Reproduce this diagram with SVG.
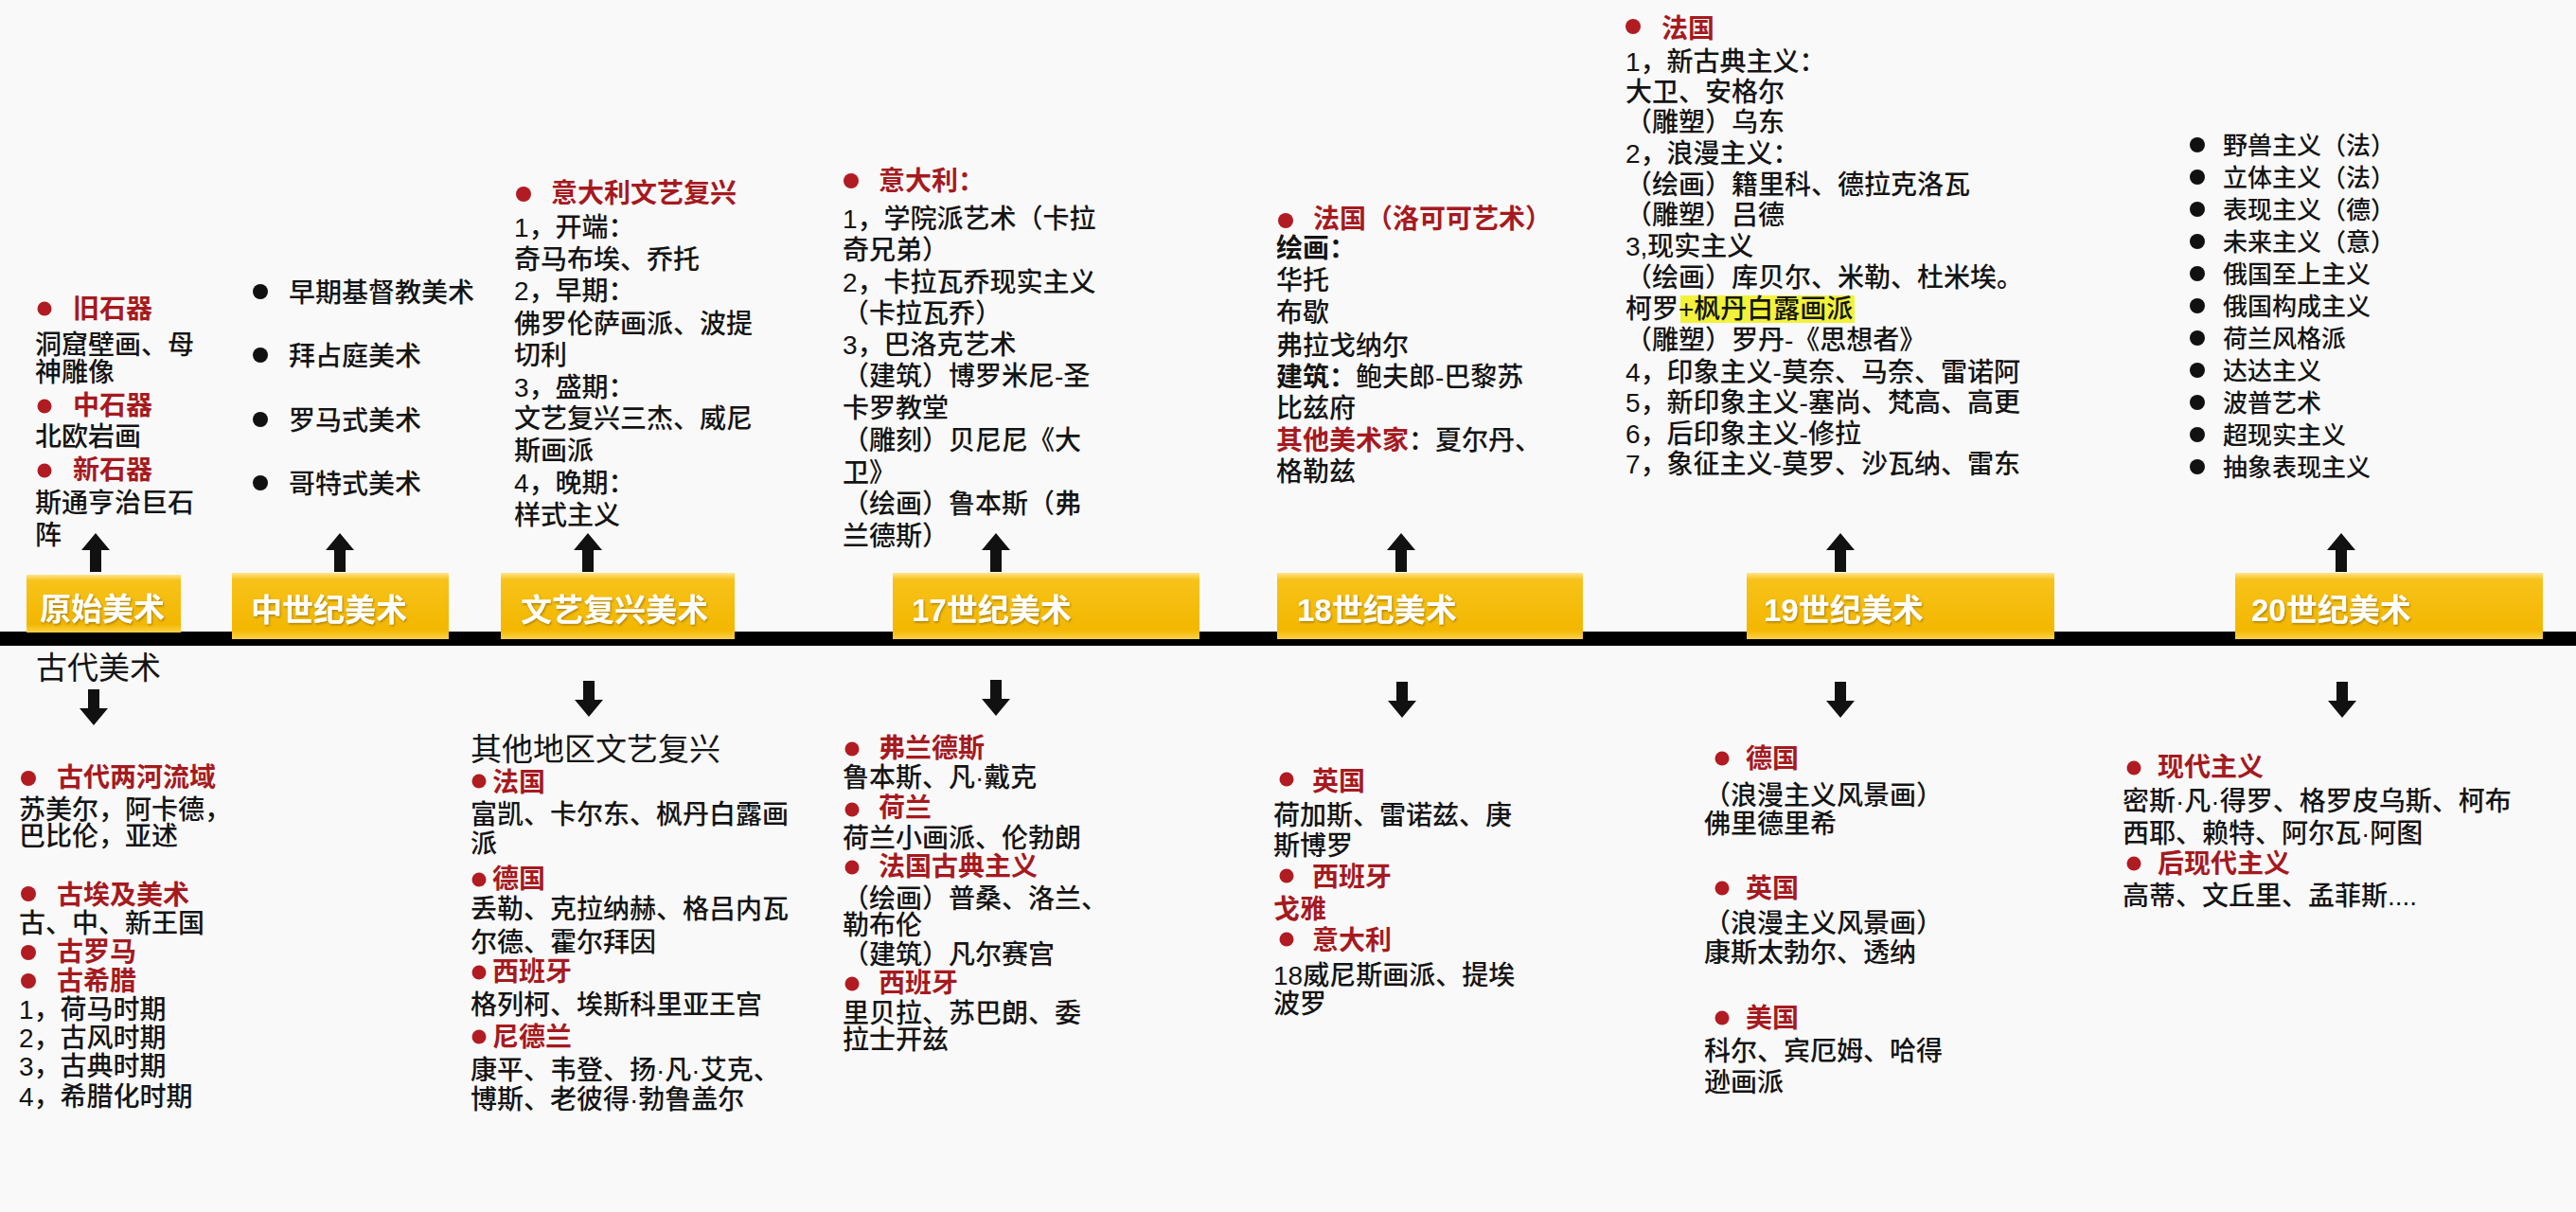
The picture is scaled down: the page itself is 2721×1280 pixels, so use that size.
<svg xmlns="http://www.w3.org/2000/svg" width="2721" height="1280" viewBox="0 0 2721 1280">
<defs>
<style>
text{font-family:"Liberation Sans","Noto Sans CJK SC",sans-serif;font-size:28px;fill:#141414;font-weight:500;}
.r{fill:#a51a1f;font-weight:700;}
.b{font-weight:700;}
.dr{fill:#b01c22;}
.dk{fill:#111;}
.lbl{fill:#fff;font-weight:700;font-size:33px;filter:url(#sh);}
.box{fill:url(#yg);}
.big{font-size:33px;font-weight:400;}
.s26{font-size:26px;}
</style>
<linearGradient id="yg" x1="0" y1="0" x2="0" y2="1">
<stop offset="0" stop-color="#ffe58a"/>
<stop offset="0.1" stop-color="#f7c21a"/>
<stop offset="0.86" stop-color="#f3b700"/>
<stop offset="1" stop-color="#fcd24a"/>
</linearGradient>
<filter id="sh" x="-10%" y="-20%" width="120%" height="140%"><feDropShadow dx="1" dy="1.5" stdDeviation="1" flood-color="#7a5a00" flood-opacity="0.6"/></filter>
<path id="up" d="M0,0 L15,18 L6,18 L6,41 L-6,41 L-6,18 L-15,18 Z" fill="#111"/>
<path id="dn" d="M0,0 L15,-18 L6,-18 L6,-38 L-6,-38 L-6,-18 L-15,-18 Z" fill="#111"/>
</defs>
<rect x="0" y="0" width="2721" height="1280" fill="#f9f9f9"/>

<g id="connectors">
<rect x="0" y="667" width="2721" height="15" fill="#000"/>
<use href="#up" x="101" y="563"/>
<use href="#up" x="359" y="563"/>
<use href="#up" x="621" y="563"/>
<use href="#up" x="1052" y="563"/>
<use href="#up" x="1480" y="563"/>
<use href="#up" x="1944" y="563"/>
<use href="#up" x="2473" y="563"/>
<use href="#dn" x="99" y="766"/>
<use href="#dn" x="622" y="757"/>
<use href="#dn" x="1052" y="756"/>
<use href="#dn" x="1481" y="758"/>
<use href="#dn" x="1944" y="758"/>
<use href="#dn" x="2474" y="758"/>
</g>

<g id="box-primitive"><rect class="box" x="28" y="607" width="163" height="61"/><text class="lbl" x="42" y="655">原始美术</text></g>
<g id="box-medieval"><rect class="box" x="245" y="605" width="229" height="70"/><text class="lbl" x="265" y="656">中世纪美术</text></g>
<g id="box-renaissance"><rect class="box" x="529" y="605" width="247" height="70"/><text class="lbl" x="550" y="656">文艺复兴美术</text></g>
<g id="box-17c"><rect class="box" x="943" y="605" width="324" height="70"/><text class="lbl" x="963" y="656">17世纪美术</text></g>
<g id="box-18c"><rect class="box" x="1349" y="605" width="323" height="70"/><text class="lbl" x="1370" y="656">18世纪美术</text></g>
<g id="box-19c"><rect class="box" x="1845" y="605" width="325" height="70"/><text class="lbl" x="1863" y="656">19世纪美术</text></g>
<g id="box-20c"><rect class="box" x="2361" y="605" width="325" height="70"/><text class="lbl" x="2378" y="656">20世纪美术</text></g>

<g id="primitive-top">
<circle class="dr" cx="47" cy="326" r="7.5"/><text class="r" x="77" y="336">旧石器</text>
<text x="37" y="374">洞窟壁画、母</text>
<text x="37" y="403">神雕像</text>
<circle class="dr" cx="47" cy="429" r="7.5"/><text class="r" x="77" y="438">中石器</text>
<text x="37" y="471">北欧岩画</text>
<circle class="dr" cx="47" cy="497" r="7.5"/><text class="r" x="77" y="506">新石器</text>
<text x="37" y="541">斯通亨治巨石</text>
<text x="37" y="575">阵</text>
</g>

<g id="medieval-top">
<circle class="dk" cx="275" cy="308" r="8"/><text x="305" y="319">早期基督教美术</text>
<circle class="dk" cx="275" cy="375" r="8"/><text x="305" y="386">拜占庭美术</text>
<circle class="dk" cx="275" cy="443" r="8"/><text x="305" y="454">罗马式美术</text>
<circle class="dk" cx="275" cy="510" r="8"/><text x="305" y="521">哥特式美术</text>
</g>

<g id="renaissance-top">
<circle class="dr" cx="553" cy="205" r="8"/><text class="r" x="582" y="214">意大利文艺复兴</text>
<text x="543" y="250">1，开端：</text>
<text x="543" y="284">奇马布埃、乔托</text>
<text x="543" y="317">2，早期：</text>
<text x="543" y="352">佛罗伦萨画派、波提</text>
<text x="543" y="385">切利</text>
<text x="543" y="419">3，盛期：</text>
<text x="543" y="452">文艺复兴三杰、威尼</text>
<text x="543" y="486">斯画派</text>
<text x="543" y="520">4，晚期：</text>
<text x="543" y="554">样式主义</text>
</g>

<g id="17c-top">
<circle class="dr" cx="899" cy="191" r="8"/><text class="r" x="928" y="201">意大利：</text>
<text x="890" y="241">1，学院派艺术（卡拉</text>
<text x="890" y="274">奇兄弟）</text>
<text x="890" y="308">2，卡拉瓦乔现实主义</text>
<text x="890" y="341">（卡拉瓦乔）</text>
<text x="890" y="374">3，巴洛克艺术</text>
<text x="890" y="407">（建筑）博罗米尼-圣</text>
<text x="890" y="441">卡罗教堂</text>
<text x="890" y="475">（雕刻）贝尼尼《大</text>
<text x="890" y="509">卫》</text>
<text x="890" y="542">（绘画）鲁本斯（弗</text>
<text x="890" y="576">兰德斯）</text>
</g>

<g id="18c-top">
<circle class="dr" cx="1358" cy="233" r="8"/><text class="r" x="1387" y="241">法国（洛可可艺术）</text>
<text class="b" x="1348" y="272">绘画：</text>
<text x="1348" y="306">华托</text>
<text x="1348" y="340">布歇</text>
<text x="1348" y="375">弗拉戈纳尔</text>
<text x="1348" y="408"><tspan class="b">建筑：</tspan>鲍夫郎-巴黎苏</text>
<text x="1348" y="441">比兹府</text>
<text x="1348" y="475"><tspan class="r">其他美术家</tspan>：夏尔丹、</text>
<text x="1348" y="508">格勒兹</text>
</g>

<g id="19c-top">
<rect x="1775" y="312" width="184" height="29" fill="#f2f23a"/>
<circle class="dr" cx="1725" cy="28" r="8"/><text class="r" x="1755" y="40">法国</text>
<text x="1717" y="75">1，新古典主义：</text>
<text x="1717" y="107">大卫、安格尔</text>
<text x="1717" y="139">（雕塑）乌东</text>
<text x="1717" y="172">2，浪漫主义：</text>
<text x="1717" y="205">（绘画）籍里科、德拉克洛瓦</text>
<text x="1717" y="237">（雕塑）吕德</text>
<text x="1717" y="270">3,现实主义</text>
<text x="1717" y="303">（绘画）库贝尔、米勒、杜米埃。</text>
<text x="1717" y="336">柯罗+枫丹白露画派</text>
<text x="1717" y="369">（雕塑）罗丹-《思想者》</text>
<text x="1717" y="403">4，印象主义-莫奈、马奈、雷诺阿</text>
<text x="1717" y="435">5，新印象主义-塞尚、梵高、高更</text>
<text x="1717" y="468">6，后印象主义-修拉</text>
<text x="1717" y="500">7，象征主义-莫罗、沙瓦纳、雷东</text>
</g>

<g id="20c-top">
<circle class="dk" cx="2321" cy="153" r="8"/><text class="s26" x="2348" y="163">野兽主义（法）</text>
<circle class="dk" cx="2321" cy="187" r="8"/><text class="s26" x="2348" y="197">立体主义（法）</text>
<circle class="dk" cx="2321" cy="221" r="8"/><text class="s26" x="2348" y="231">表现主义（德）</text>
<circle class="dk" cx="2321" cy="255" r="8"/><text class="s26" x="2348" y="265">未来主义（意）</text>
<circle class="dk" cx="2321" cy="289" r="8"/><text class="s26" x="2348" y="299">俄国至上主义</text>
<circle class="dk" cx="2321" cy="323" r="8"/><text class="s26" x="2348" y="333">俄国构成主义</text>
<circle class="dk" cx="2321" cy="357" r="8"/><text class="s26" x="2348" y="367">荷兰风格派</text>
<circle class="dk" cx="2321" cy="391" r="8"/><text class="s26" x="2348" y="401">达达主义</text>
<circle class="dk" cx="2321" cy="425" r="8"/><text class="s26" x="2348" y="435">波普艺术</text>
<circle class="dk" cx="2321" cy="459" r="8"/><text class="s26" x="2348" y="469">超现实主义</text>
<circle class="dk" cx="2321" cy="493" r="8"/><text class="s26" x="2348" y="503">抽象表现主义</text>
</g>

<g id="ancient-bottom">
<text class="big" x="38" y="717">古代美术</text>
<circle class="dr" cx="30" cy="822" r="8"/><text class="r" x="60" y="831">古代两河流域</text>
<text x="20" y="865">苏美尔，阿卡德，</text>
<text x="20" y="893">巴比伦，亚述</text>
<circle class="dr" cx="30" cy="944" r="8"/><text class="r" x="60" y="955">古埃及美术</text>
<text x="20" y="985">古、中、新王国</text>
<circle class="dr" cx="30" cy="1006" r="8"/><text class="r" x="60" y="1015">古罗马</text>
<circle class="dr" cx="30" cy="1036" r="8"/><text class="r" x="60" y="1046">古希腊</text>
<text x="20" y="1076">1，荷马时期</text>
<text x="20" y="1106">2，古风时期</text>
<text x="20" y="1136">3，古典时期</text>
<text x="20" y="1168">4，希腊化时期</text>
</g>

<g id="renaissance-bottom">
<text class="big" x="497" y="803">其他地区文艺复兴</text>
<circle class="dr" cx="506" cy="825" r="7.5"/><text class="r" x="520" y="836">法国</text>
<text x="497" y="870">富凯、卡尔东、枫丹白露画</text>
<text x="497" y="901">派</text>
<circle class="dr" cx="506" cy="929" r="7.5"/><text class="r" x="520" y="938">德国</text>
<text x="497" y="970">丢勒、克拉纳赫、格吕内瓦</text>
<text x="497" y="1005">尔德、霍尔拜因</text>
<circle class="dr" cx="506" cy="1027" r="7.5"/><text class="r" x="520" y="1036">西班牙</text>
<text x="497" y="1071">格列柯、埃斯科里亚王宫</text>
<circle class="dr" cx="506" cy="1095" r="7.5"/><text class="r" x="520" y="1105">尼德兰</text>
<text x="497" y="1140">康平、韦登、扬·凡·艾克、</text>
<text x="497" y="1171">博斯、老彼得·勃鲁盖尔</text>
</g>

<g id="17c-bottom">
<circle class="dr" cx="900" cy="791" r="7.5"/><text class="r" x="928" y="800">弗兰德斯</text>
<text x="890" y="831">鲁本斯、凡·戴克</text>
<circle class="dr" cx="900" cy="855" r="7.5"/><text class="r" x="928" y="863">荷兰</text>
<text x="890" y="895">荷兰小画派、伦勃朗</text>
<circle class="dr" cx="900" cy="916" r="7.5"/><text class="r" x="928" y="925">法国古典主义</text>
<text x="890" y="959">（绘画）普桑、洛兰、</text>
<text x="890" y="987">勒布伦</text>
<text x="890" y="1018">（建筑）凡尔赛宫</text>
<circle class="dr" cx="900" cy="1039" r="7.5"/><text class="r" x="928" y="1048">西班牙</text>
<text x="890" y="1080">里贝拉、苏巴朗、委</text>
<text x="890" y="1108">拉士开兹</text>
</g>

<g id="18c-bottom">
<circle class="dr" cx="1359" cy="823" r="7.5"/><text class="r" x="1386" y="835">英国</text>
<text x="1345" y="871">荷加斯、雷诺兹、庚</text>
<text x="1345" y="903">斯博罗</text>
<circle class="dr" cx="1359" cy="925" r="7.5"/><text class="r" x="1386" y="936">西班牙</text>
<text class="r" x="1345" y="970">戈雅</text>
<circle class="dr" cx="1359" cy="992" r="7.5"/><text class="r" x="1386" y="1003">意大利</text>
<text x="1345" y="1040">18威尼斯画派、提埃</text>
<text x="1345" y="1070">波罗</text>
</g>

<g id="19c-bottom">
<circle class="dr" cx="1819" cy="801" r="7.5"/><text class="r" x="1844" y="811">德国</text>
<text x="1800" y="850">（浪漫主义风景画）</text>
<text x="1800" y="880">佛里德里希</text>
<circle class="dr" cx="1819" cy="938" r="7.5"/><text class="r" x="1844" y="948">英国</text>
<text x="1800" y="985">（浪漫主义风景画）</text>
<text x="1800" y="1016">康斯太勃尔、透纳</text>
<circle class="dr" cx="1819" cy="1075" r="7.5"/><text class="r" x="1844" y="1085">美国</text>
<text x="1800" y="1120">科尔、宾厄姆、哈得</text>
<text x="1800" y="1153">逊画派</text>
</g>

<g id="20c-bottom">
<circle class="dr" cx="2254" cy="811" r="7.5"/><text class="r" x="2279" y="820">现代主义</text>
<text x="2242" y="856">密斯·凡·得罗、格罗皮乌斯、柯布</text>
<text x="2242" y="890">西耶、赖特、阿尔瓦·阿图</text>
<circle class="dr" cx="2254" cy="912" r="7.5"/><text class="r" x="2279" y="922">后现代主义</text>
<text x="2242" y="956">高蒂、文丘里、孟菲斯....</text>
</g>
</svg>
